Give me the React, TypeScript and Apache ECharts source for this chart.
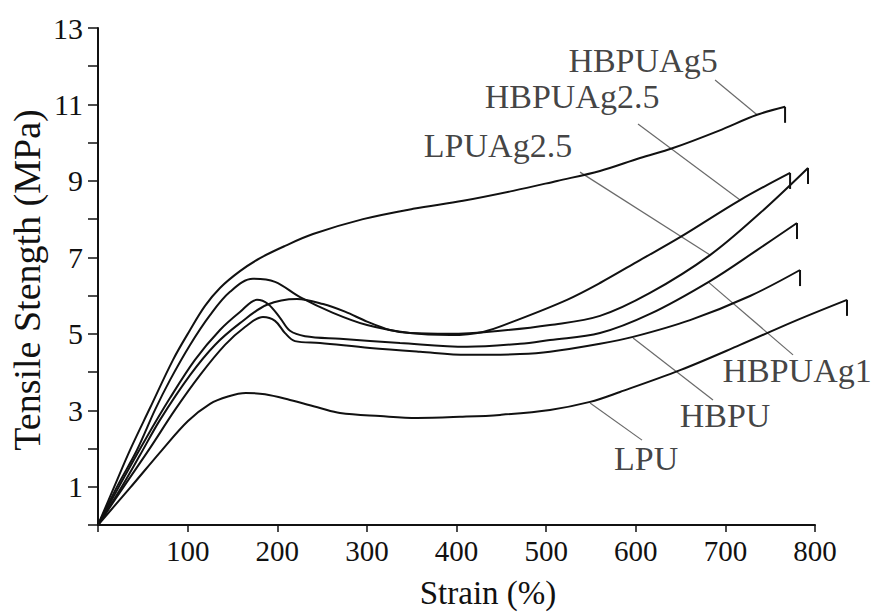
import React, { useEffect, useRef } from 'react';
import * as echarts from 'echarts';

// ---- Data (Strain %, Tensile strength MPa) ----
const seriesNames = ['HBPUAg5', 'HBPUAg2.5', 'LPUAg2.5', 'HBPUAg1', 'HBPU', 'LPU'];

const hbpuag5Strain = [0, 19.0, 35.7, 58.0, 83.7, 102.7, 119.4, 136.1, 158.4, 180.8, 208.7, 239.9, 295.7, 351.5, 407.3, 463.1, 512.2, 560.1, 604.8, 641.6, 692.4, 735.3, 766.6];
const hbpuag5Stress = [0, 1.05, 1.96, 3.06, 4.32, 5.1, 5.73, 6.2, 6.64, 6.98, 7.3, 7.61, 8.0, 8.27, 8.48, 8.74, 9.0, 9.26, 9.6, 9.86, 10.31, 10.73, 10.94];

const hbpuag25Strain = [0, 22.3, 43.5, 63.6, 80.3, 102.7, 125.0, 147.3, 172.9, 197.5, 225.4, 262.2, 300.2, 348.1, 392.8, 429.6, 467.5, 523.3, 560.1, 604.8, 649.5, 716.4, 772.2];
const hbpuag25Stress = [0, 1.05, 1.96, 3.01, 3.79, 4.71, 5.49, 6.1, 6.44, 6.36, 5.96, 5.55, 5.23, 5.02, 4.97, 5.05, 5.36, 5.89, 6.33, 6.93, 7.53, 8.5, 9.21];

const lpuag25Strain = [0, 24.5, 46.9, 69.2, 102.7, 130.5, 158.4, 188.6, 222.0, 251.1, 275.6, 300.2, 325.8, 348.1, 392.8, 448.6, 504.3, 560.1, 615.9, 682.9, 738.7, 792.2];
const lpuag25Stress = [0, 0.92, 1.83, 2.75, 3.92, 4.71, 5.28, 5.76, 5.91, 5.78, 5.58, 5.32, 5.1, 5.02, 5.0, 5.08, 5.23, 5.47, 6.07, 7.06, 8.16, 9.34];

const hbpuag1Strain = [0, 24.5, 52.4, 80.3, 108.2, 136.1, 158.4, 177.4, 189.7, 203.1, 214.2, 231.0, 270.0, 337.0, 411.7, 470.9, 504.3, 560.1, 615.9, 682.9, 735.3, 779.9];
const hbpuag1Stress = [0, 1.05, 2.22, 3.32, 4.32, 5.1, 5.57, 5.89, 5.78, 5.42, 5.08, 4.94, 4.87, 4.76, 4.66, 4.74, 4.84, 5.02, 5.52, 6.38, 7.19, 7.9];

const hbpuStrain = [0, 30.1, 58.0, 85.9, 113.8, 141.7, 164.0, 184.1, 197.5, 208.7, 219.8, 247.7, 303.5, 359.3, 411.7, 470.9, 504.3, 560.1, 596.9, 660.6, 727.5, 783.3];
const hbpuStress = [0, 1.05, 2.01, 3.01, 3.92, 4.71, 5.18, 5.44, 5.34, 5.02, 4.81, 4.76, 4.63, 4.53, 4.45, 4.47, 4.53, 4.74, 4.92, 5.36, 5.99, 6.67];

const lpuStrain = [0, 35.7, 71.4, 100.4, 125.0, 145.0, 165.0, 186.3, 214.2, 247.7, 270.0, 314.7, 355.9, 403.9, 448.6, 504.3, 549.0, 582.4, 649.5, 716.4, 779.9, 835.7];
const lpuStress = [0, 0.97, 1.96, 2.72, 3.17, 3.36, 3.45, 3.42, 3.27, 3.06, 2.93, 2.85, 2.8, 2.83, 2.88, 3.01, 3.22, 3.48, 4.05, 4.71, 5.36, 5.89];

// Annotation label anchor (centre of text) and leader lines: [x1, y1, x2, y2]
const labelX = [608.1, 528.9, 446.3, 780.0, 699.6, 611.5];
const labelY = [12.14, 11.2, 9.92, 4.03, 2.86, 1.73];
const leaders = [
  [688.5, 11.64, 735.3, 10.73],
  [602.5, 10.49, 716.4, 8.5],
  [537.8, 9.23, 682.9, 7.06],
  [680.7, 6.36, 775.5, 4.45],
  [597.0, 4.89, 686.2, 3.27],
  [549.0, 3.19, 607.0, 2.22],
];

const xMin = 0;
const xMax = 800;
const xPlotMax = 850; // data area extends past the last labelled tick (LPU breaks beyond 800)
const yMin = 0;
const yMax = 13;
const yLabelValues = [1, 3, 5, 7, 9, 11, 13];

const curves = [
  [hbpuag5Strain, hbpuag5Stress],
  [hbpuag25Strain, hbpuag25Stress],
  [lpuag25Strain, lpuag25Stress],
  [hbpuag1Strain, hbpuag1Stress],
  [hbpuStrain, hbpuStress],
  [lpuStrain, lpuStress],
];

const FONT = '"Liberation Serif", "Times New Roman", serif';
const BREAK_DROP = 0.42;

const GRID_LEFT = 98;
const GRID_RIGHT = 70;
const W = 885;

export default function App() {
  const ref = useRef<HTMLDivElement>(null);

  useEffect(() => {
    document.body.style.margin = '0';
    if (!ref.current) return;
    const chart = echarts.init(ref.current, undefined, { renderer: 'svg' });

    const axisWidth = W - GRID_LEFT - GRID_RIGHT;
    const plotRight = W - (GRID_LEFT + (axisWidth * (xPlotMax - xMin)) / (xMax - xMin));

    const onPlot = { xAxisIndex: 1, yAxisIndex: 1 };
    const series: any[] = [];
    curves.forEach(([xs, ys], i) => {
      const data = xs.map((x, k) => [x, ys[k]]);
      series.push({
        name: seriesNames[i],
        type: 'line',
        ...onPlot,
        data,
        smooth: 0.35,
        showSymbol: false,
        symbol: 'none',
        lineStyle: { color: '#111', width: 2 },
        z: 3,
      });
      const last = data[data.length - 1];
      series.push({
        name: seriesNames[i] + ' break',
        type: 'line',
        ...onPlot,
        data: [last, [last[0], last[1] - BREAK_DROP]],
        symbol: 'none',
        lineStyle: { color: '#111', width: 2 },
        z: 3,
      });
    });
    leaders.forEach((l, i) => {
      series.push({
        name: seriesNames[i] + ' leader',
        type: 'line',
        ...onPlot,
        data: [[l[0], l[1]], [l[2], l[3]]],
        symbol: 'none',
        lineStyle: { color: '#6a6a6a', width: 1.2 },
        z: 2,
      });
    });
    series.push({
      name: 'labels',
      type: 'scatter',
      ...onPlot,
      symbolSize: 0,
      data: labelX.map((x, i) => ({ value: [x, labelY[i]], name: seriesNames[i] })),
      label: {
        show: true,
        position: 'inside',
        formatter: (p: any) => p.name,
        fontFamily: FONT,
        fontSize: 34,
        color: '#111',
      },
      z: 4,
    });

    chart.setOption({
      animation: false,
      backgroundColor: '#fff',
      grid: [
        { left: GRID_LEFT, right: GRID_RIGHT, top: 28, bottom: 88, containLabel: false },
        { left: GRID_LEFT, right: plotRight, top: 28, bottom: 88, containLabel: false },
      ],
      xAxis: [
        {
          type: 'value',
          gridIndex: 0,
          min: xMin,
          max: xMax,
          interval: 100,
          axisLine: { show: true, lineStyle: { color: '#111', width: 2 } },
          axisTick: { show: true, inside: false, length: 7, lineStyle: { color: '#111', width: 1.5 } },
          axisLabel: {
            show: true,
            margin: 11,
            fontFamily: FONT,
            fontSize: 29,
            color: '#111',
            formatter: (v: number) => (v === 0 ? '' : String(v)),
          },
          splitLine: { show: false },
        },
        { type: 'value', gridIndex: 1, min: xMin, max: xPlotMax, show: false },
      ],
      yAxis: [
        {
          type: 'value',
          gridIndex: 0,
          min: yMin,
          max: yMax,
          interval: 1,
          axisLine: { show: true, lineStyle: { color: '#111', width: 2 } },
          axisTick: { show: true, inside: false, length: 10, lineStyle: { color: '#111', width: 1.5 } },
          axisLabel: {
            show: true,
            margin: 15,
            fontFamily: FONT,
            fontSize: 30,
            color: '#111',
            formatter: (v: number) => (yLabelValues.includes(v) ? String(v) : ''),
          },
          splitLine: { show: false },
        },
        { type: 'value', gridIndex: 1, min: yMin, max: yMax, show: false },
      ],
      graphic: [
        {
          type: 'text',
          x: 488,
          y: 593,
          style: {
            text: 'Strain (%)',
            fontFamily: FONT,
            fontSize: 33,
            fill: '#111',
            align: 'center',
            verticalAlign: 'middle',
          },
        },
        {
          type: 'text',
          x: 27,
          y: 280,
          rotation: Math.PI / 2,
          style: {
            text: 'Tensile Stength (MPa)',
            fontFamily: FONT,
            fontSize: 38,
            fill: '#111',
            align: 'center',
            verticalAlign: 'middle',
          },
        },
      ],
      series,
    });

    return () => chart.dispose();
  }, []);

  return <div ref={ref} style={{ width: 885, height: 613 }} />;
}
